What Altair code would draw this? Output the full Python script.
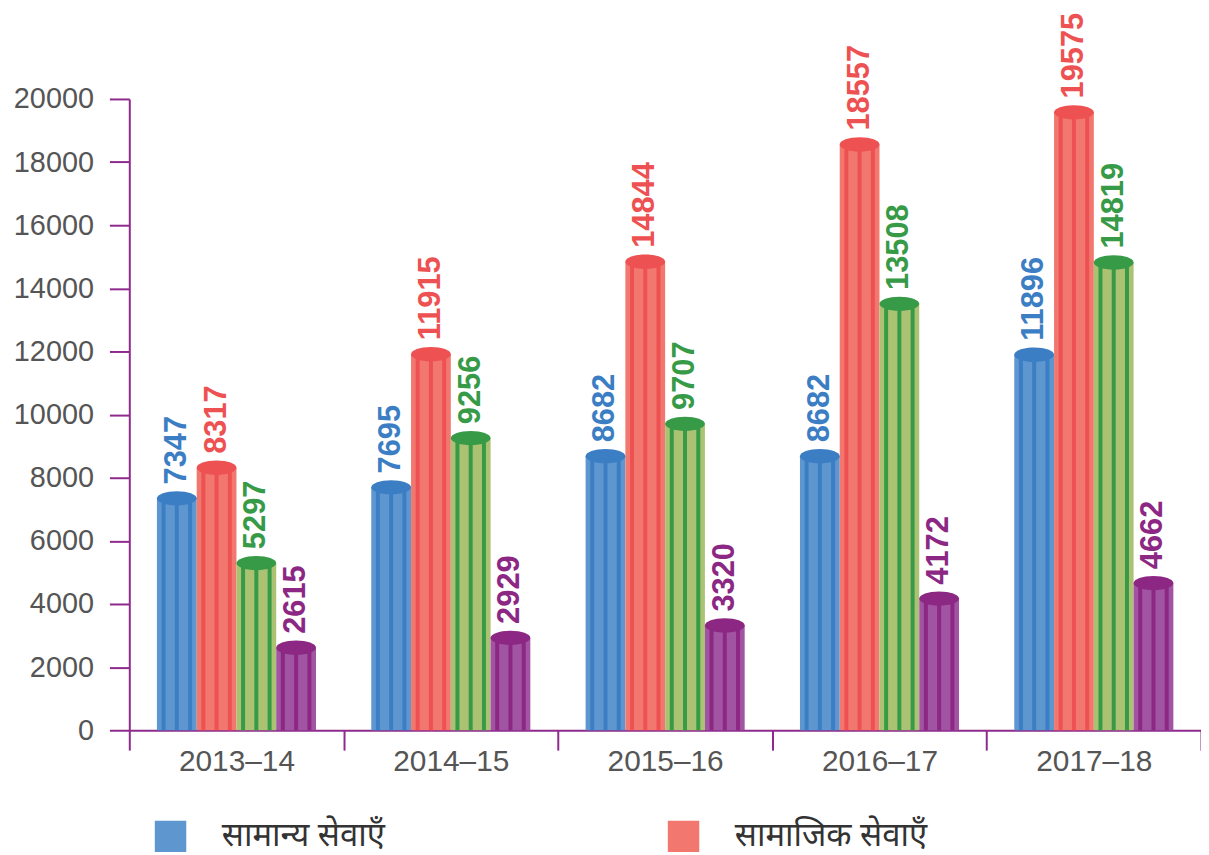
import altair as alt
import pandas as pd

# ---- data ----
years = ["2013–14", "2014–15", "2015–16", "2016–17", "2017–18"]
series = ["सामान्य सेवाएँ", "सामाजिक सेवाएँ", "आर्थिक सेवाएँ", "सहायता अनुदान"]
general = [7347, 7695, 8682, 8682, 11896]
social = [8317, 11915, 14844, 18557, 19575]
economic = [5297, 9256, 9707, 13508, 14819]
grants = [2615, 2929, 3320, 4172, 4662]
y_ticks = [0, 2000, 4000, 6000, 8000, 10000, 12000, 14000, 16000, 18000, 20000]

# ---- styles / layout ----
fill_colors = ["#5e96d0", "#f2776e", "#abc273", "#a154a2"]
dark_colors = ["#3c7ec4", "#ee5151", "#369a47", "#8c2784"]
axis_purple = "#8e2a8e"
n_stripes = 3
plot_w, plot_h = 1078, 635
bar_w = 40
step = plot_w / len(years)
group_w = bar_w * len(series)
group_pad = (step - group_w) / 2

values_by_series = [general, social, economic, grants]
rows, stripe_rows = [], []
for j, s in enumerate(series):
    for i, yr in enumerate(years):
        v = values_by_series[j][i]
        rows.append({"year": yr, "series": s, "value": v, "slot": f"{j}-1"})
        for k in range(n_stripes):
            stripe_rows.append({"year": yr, "series": s, "value": v, "slot": f"{j}-{k}"})
df = pd.DataFrame(rows)
sdf = pd.DataFrame(stripe_rows)
slot_domain = [f"{j}-{k}" for j in range(len(series)) for k in range(n_stripes)]

x_enc = alt.X(
    "year:N",
    scale=alt.Scale(domain=years, paddingInner=0, paddingOuter=0),
    axis=alt.Axis(
        title=None, labelAngle=0, tickBand="extent", tickSize=20, tickWidth=2,
        tickColor=axis_purple, domainColor=axis_purple, domainWidth=2,
        labelFontSize=30, labelColor="#555555", labelFont="Liberation Sans",
        labelPadding=-4, grid=False,
    ),
)
xo_enc = alt.XOffset(
    "slot:N",
    scale=alt.Scale(domain=slot_domain, paddingInner=0, paddingOuter=0,
                    range=[group_pad, group_pad + group_w]),
)
y_enc = alt.Y(
    "value:Q",
    scale=alt.Scale(domain=[0, 20000], nice=False),
    axis=alt.Axis(
        title=None, values=y_ticks, format="d", tickSize=20, tickWidth=2,
        tickColor=axis_purple, domainColor=axis_purple, domainWidth=2,
        labelFontSize=29, labelColor="#555555", labelFont="Liberation Sans",
        labelPadding=16, grid=False,
    ),
)
dark_scale = alt.Scale(domain=series, range=dark_colors)

bars = alt.Chart(df).mark_bar(width=bar_w).encode(
    x=x_enc, xOffset=xo_enc, y=y_enc,
    fill=alt.Fill(
        "series:N",
        scale=alt.Scale(domain=series, range=fill_colors),
        legend=alt.Legend(
            values=series[:2], title=None, orient="none", legendX=25, legendY=725,
            direction="horizontal", columns=2, columnPadding=283, padding=0,
            symbolType="square", symbolSize=1000, symbolStrokeWidth=0,
            labelFontSize=33, labelFont="Noto Sans", labelColor="#333333",
            labelOffset=35, labelLimit=0,
        ),
    ),
)
stripes = alt.Chart(sdf).mark_bar(width=4).encode(
    x=x_enc, xOffset=xo_enc, y=y_enc,
    color=alt.Color("series:N", scale=dark_scale, legend=None),
)
ellipse = "M -1 0 A 1 0.36 0 1 1 1 0 A 1 0.36 0 1 1 -1 0 Z"
tops = alt.Chart(df).mark_point(shape=ellipse, size=bar_w * bar_w, filled=True, opacity=1, strokeWidth=0).encode(
    x=x_enc, xOffset=xo_enc, y=y_enc,
    color=alt.Color("series:N", scale=dark_scale, legend=None),
)
labels = alt.Chart(df).mark_text(
    angle=270, align="left", baseline="middle", dx=14, fontSize=31,
    fontWeight="bold", font="Liberation Sans",
).encode(
    x=x_enc, xOffset=xo_enc, y=y_enc, text="value:Q",
    color=alt.Color("series:N", scale=dark_scale, legend=None),
)

chart = (
    alt.layer(bars, stripes, tops, labels)
    .properties(
        width=plot_w, height=plot_h,
        padding={"left": 122, "top": 89, "right": 0, "bottom": 123},
        autosize=alt.AutoSizeParams(type="none"),
    )
    .configure_view(stroke=None)
)
chart.save("out.html", embed_options={"renderer": "svg", "actions": False})
